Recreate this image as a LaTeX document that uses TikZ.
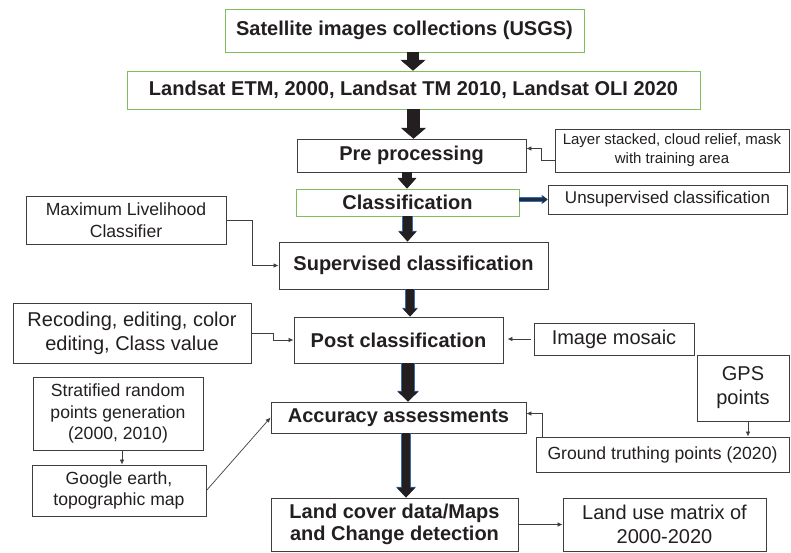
\documentclass[tikz,border=0pt]{standalone}
\usepackage{fontspec}
\setmainfont{Liberation Sans}
\usetikzlibrary{arrows.meta}
\definecolor{boxgreen}{RGB}{128,190,92}
\definecolor{ink}{RGB}{35,31,32}
\definecolor{edge}{RGB}{62,62,62}
\definecolor{navy}{RGB}{30,45,72}
\definecolor{arrowblue}{RGB}{58,108,168}

\begin{document}
\begin{tikzpicture}[x=1pt,y=-1pt,>=Latex,
  box/.style={draw=edge,line width=0.9pt,text=ink,align=center,inner sep=0pt},
  greenbox/.style={box,draw=boxgreen},
  bigb/.style={font=\fontsize{20}{22}\selectfont\bfseries},
  bigr/.style={font=\fontsize{20}{24}\selectfont},
  midr/.style={font=\fontsize{17.6}{21.7}\selectfont},
  link/.style={draw=edge,line width=0.7pt,-{Latex[length=5pt,width=4.5pt]}}]
  \useasboundingbox (0,0) rectangle (791,552);

  % main chain
  \node[greenbox,bigb,minimum width=359pt,minimum height=43pt] (sat) at (404.5,30.5)
    {Satellite images collections (USGS)};
  \node[greenbox,bigb,minimum width=573pt,minimum height=38pt] (landsat) at (413.5,90)
    {Landsat ETM, 2000, Landsat TM 2010, Landsat OLI 2020};
  \node[box,bigb,minimum width=229pt,minimum height=33pt] (pre) at (411.5,155.5) {Pre processing};
  \node[greenbox,bigb,minimum width=223pt,minimum height=27pt] (cls) at (407.5,202.5) {Classification};
  \node[box,bigb,minimum width=269pt,minimum height=47pt] (sup) at (413.5,265.5) {Supervised classification};
  \node[box,bigb,minimum width=209pt,minimum height=46pt] (post) at (398.5,340) {Post classification};
  \node[box,bigb,minimum width=255pt,minimum height=31pt] (acc) at (398.5,417.5) {Accuracy assessments};
  \node[box,bigb,minimum width=247pt,minimum height=53pt] (land) at (394.5,524.5)
    {Land cover data/Maps\\and Change detection};

  % side inputs
  \node[box,font=\fontsize{15}{19}\selectfont,minimum width=234pt,minimum height=43pt] (layer) at (672,150.5)
    {Layer stacked, cloud relief, mask\\with training area};
  \node[box,font=\fontsize{17}{21}\selectfont,minimum width=239pt,minimum height=29pt] (unsup) at (667.5,199.5)
    {Unsupervised classification};
  \node[box,midr,minimum width=200pt,minimum height=48pt] (mlc) at (126,220)
    {Maximum Livelihood\\Classifier};
  \node[box,bigr,minimum width=238pt,minimum height=60pt] (rec) at (132,333)
    {Recoding, editing, color\\editing, Class value};
  \node[box,bigr,minimum width=160pt,minimum height=32pt] (mosaic) at (614,339) {Image mosaic};
  \node[box,bigr,minimum width=92pt,minimum height=66pt] (gps) at (743,388) {GPS\\points};
  \node[box,midr,minimum width=253pt,minimum height=35pt] (ground) at (662.5,454.5)
    {Ground truthing points (2020)};
  \node[box,midr,minimum width=170pt,minimum height=73pt] (strat) at (118,413.5)
    {Stratified random\\points generation\\(2000, 2010)};
  \node[box,midr,minimum width=174pt,minimum height=51pt] (google) at (119,490.5)
    {Google earth,\\topographic map};
  \node[box,bigr,minimum width=203pt,minimum height=53pt] (landuse) at (664.5,524.5)
    {Land use matrix of\\2000-2020};

  % block arrows down the chain
  \foreach \a/\b/\dx/\w/\hw/\hl/\c in {sat/landsat/8.5/11/23/10/ink,
      landsat/pre/0/11/23/10/ink, pre/cls/-4.5/8/17/10/ink,
      cls/sup/0/9/17/10/arrowblue, sup/post/-3.5/8/14/8/arrowblue,
      post/acc/9.5/12/20/10/arrowblue, acc/land/7.5/8/18/10/arrowblue} {
    \pgfmathsetmacro{\ow}{\w+1.6}
    \pgfmathsetmacro{\ohw}{\hw+1.6}
    \pgfmathsetmacro{\ohl}{\hl+0.8}
    \draw[\c,line width=\ow pt,-{Triangle[width=\ohw pt,length=\ohl pt]}]
      ([xshift=\dx pt]\a.south) -- ([xshift=\dx pt]\a.south |- \b.north);
    \draw[ink,line width=\w pt,-{Triangle[width=\hw pt,length=\hl pt]}]
      ([xshift=\dx pt]\a.south) -- ([xshift=\dx pt]\a.south |- \b.north);
  }
  \draw[arrowblue,line width=4.4pt,-{Triangle[width=9pt,length=6pt]}] (cls.east |- unsup.west) -- (unsup.west);
  \draw[navy,line width=3pt,-{Triangle[width=7.5pt,length=5pt]}] (cls.east |- unsup.west) -- (unsup.west);

  % thin connectors
  \draw[link] ([yshift=-10pt]layer.west) -- ++(-13pt,0) |- ([yshift=7pt]pre.east);
  \draw[link] (mlc.east) -- ++(26pt,0) |- (sup.west);
  \draw[link] (rec.east) -- ++(22pt,0) |- (post.west);
  \draw[link,shorten <=3pt,shorten >=4pt] (mosaic.west) -- (mosaic.west -| post.east);
  \draw[link] ([xshift=5pt]gps.south) -- ([xshift=5pt]gps.south |- ground.north);
  \draw[link] ([xshift=7pt]ground.north west) |- ([yshift=4pt]acc.east);
  \draw[link] ([xshift=4pt]strat.south) -- ([xshift=4pt]strat.south |- google.north);
  \draw[link] (google.east) -- (acc.west);
  \draw[link] (land.east) -- (landuse.west);
\end{tikzpicture}
\end{document}
